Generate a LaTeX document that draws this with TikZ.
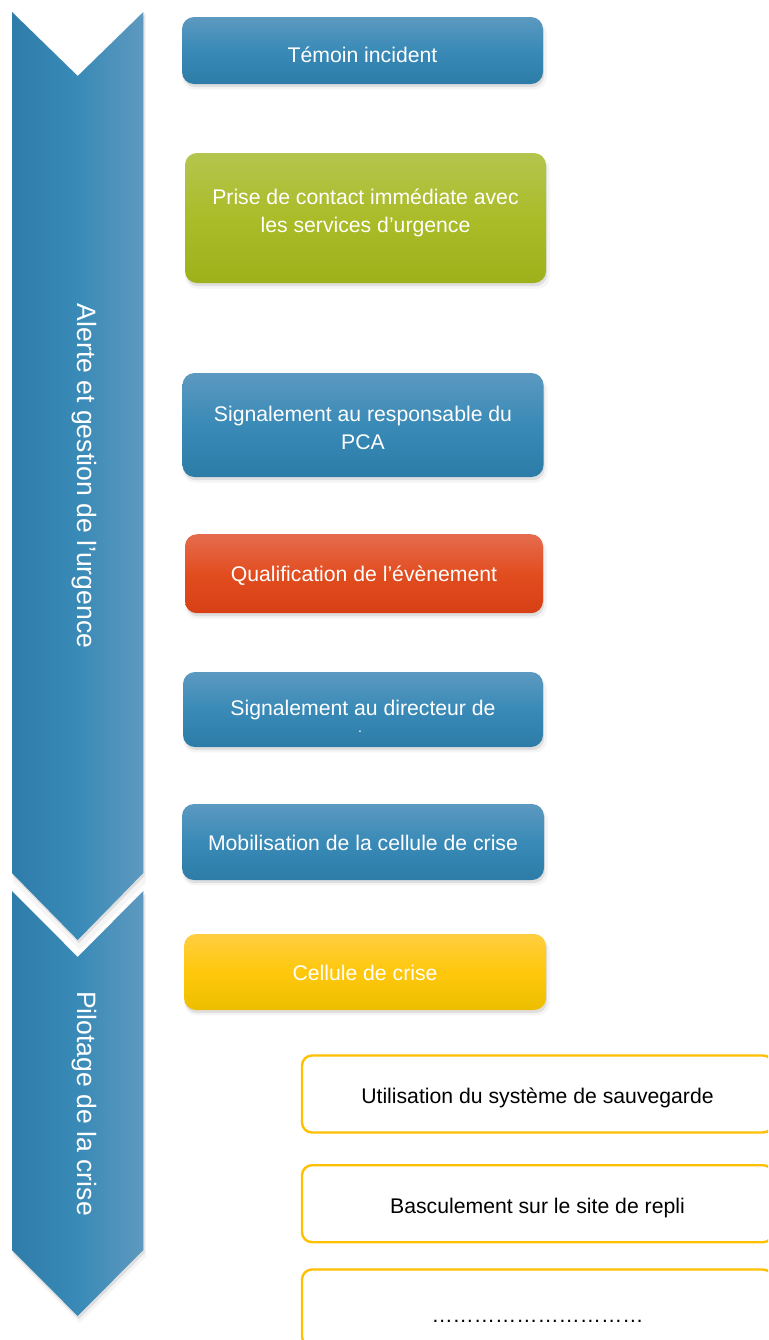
\documentclass[tikz,border=0pt]{standalone}
\usepackage{fontspec}
\setmainfont{Liberation Sans}
\usetikzlibrary{shadows}
\definecolor{bandL}{RGB}{46,124,170}
\definecolor{bandM}{RGB}{57,138,183}
\definecolor{bandR}{RGB}{94,153,191}
\definecolor{blueT}{RGB}{92,153,192}
\definecolor{blueM}{RGB}{57,138,183}
\definecolor{blueB}{RGB}{45,124,168}
\definecolor{greenT}{RGB}{180,197,78}
\definecolor{greenM}{RGB}{170,188,40}
\definecolor{greenB}{RGB}{158,176,26}
\definecolor{redT}{RGB}{229,108,78}
\definecolor{redM}{RGB}{226,77,32}
\definecolor{redB}{RGB}{214,64,20}
\definecolor{goldT}{RGB}{255,206,64}
\definecolor{goldM}{RGB}{255,200,12}
\definecolor{goldB}{RGB}{236,190,0}
\definecolor{goldline}{RGB}{255,192,0}
\newcommand{\boxfont}{\fontsize{10.6}{14}\selectfont}

\begin{document}
\begin{tikzpicture}[x=0.5pt,y=-0.5pt,
  softshadow/.style={
    drop shadow={shadow xshift=1pt,shadow yshift=-2.5pt,opacity=0.08,shadow scale=1.01},
    drop shadow={shadow xshift=0.6pt,shadow yshift=-1.6pt,opacity=0.18}},
  band/.style={softshadow,left color=bandL,right color=bandR,middle color=bandM},
  bandtext/.style={text=white,rotate=-90,font=\fontsize{13.3}{16}\selectfont},
  stagebox/.style={rectangle,rounded corners=6pt,softshadow,text=white,font=\boxfont,
    align=center,inner sep=0pt},
  bluebox/.style={stagebox,top color=blueT,bottom color=blueB,middle color=blueM},
  greenbox/.style={stagebox,top color=greenT,bottom color=greenB,middle color=greenM},
  redbox/.style={stagebox,top color=redT,bottom color=redB,middle color=redM},
  goldbox/.style={stagebox,top color=goldT,bottom color=goldB,middle color=goldM},
  outlinebox/.style={rectangle,rounded corners=5pt,draw=goldline,line width=1.2pt,fill=white,
    font=\boxfont,text=black,align=center,inner sep=0pt,minimum width=235.5pt,minimum height=38.5pt},
  boxtext/.style={text=white,font=\boxfont,align=center,inner sep=0pt},
  lineheight/.style={text height=#1,text depth=0pt}]
  \useasboundingbox (0,0) rectangle (768,1340);
  \clip (0,0) rectangle (768,1340);
  \fill[white] (0,0) rectangle (768,1340);

  \path[band] (12,891) -- (77.7,957) -- (143.3,891) -- (143.3,1250) -- (77.7,1316) -- (12,1250) -- cycle;
  \path[band] (12,12) -- (77.7,76) -- (143.3,12) -- (143.3,873) -- (77.7,940) -- (12,873) -- cycle;
  \node[bandtext] (alerte) at (84,476) {Alerte et gestion de l’urgence};
  \node[bandtext] (pilotage) at (84,1103.5) {Pilotage de la crise};

  \node[bluebox,lineheight=12.3pt,minimum width=180.5pt,minimum height=33.5pt] (temoin) at (362.5,50.5) {Témoin incident};
  \node[greenbox,minimum width=180.5pt,minimum height=65pt] (prise) at (365.5,218) {};
  \node[boxtext] (prisetext) at ([yshift=2.5pt]prise.center) {Prise de contact immédiate avec\\les services d’urgence};
  \node[bluebox,minimum width=180.5pt,minimum height=52pt] (pca) at (363,425) {};
  \node[boxtext] (pcatext) at ([yshift=-1.5pt]pca.center) {Signalement au responsable du\\PCA};
  \node[redbox,lineheight=7.6pt,minimum width=179pt,minimum height=39.5pt] (qualif) at (364,573.7) {Qualification de l’évènement};
  \node[bluebox,lineheight=6.1pt,minimum width=180pt,minimum height=37.5pt] (directeur) at (363,709.5) {Signalement au directeur de};
  \node[boxtext,font=\fontsize{7}{7}\selectfont] (dirdot) at ([xshift=-1.5pt,yshift=-11.25pt]directeur.center) {.};
  \node[bluebox,lineheight=8.6pt,minimum width=181pt,minimum height=38pt] (mobil) at (363,842) {Mobilisation de la cellule de crise};
  \node[goldbox,lineheight=8.6pt,minimum width=181pt,minimum height=38pt] (cellule) at (365,972) {Cellule de crise};

  \node[outlinebox,lineheight=9.7pt] (sauvegarde) at (537.5,1094) {Utilisation du système de sauvegarde};
  \node[outlinebox,lineheight=9.7pt] (repli) at (537.5,1203.7) {Basculement sur le site de repli};
  \node[outlinebox,lineheight=14pt] (autre) at (537.5,1308) {\char"2026\char"2026\char"2026\char"2026\char"2026\char"2026\char"2026\char"2026\char"2026\char"2026};
\end{tikzpicture}
\end{document}
